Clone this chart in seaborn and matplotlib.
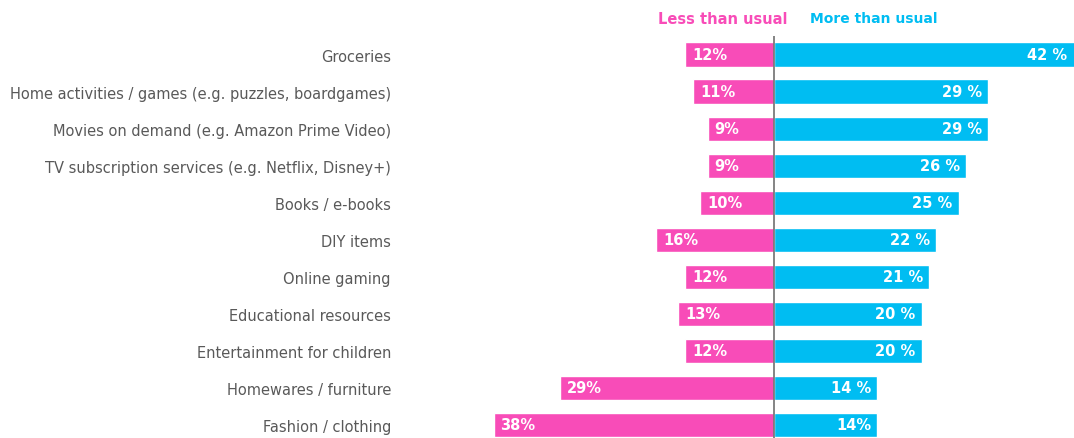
import matplotlib
matplotlib.use("Agg")
import matplotlib.pyplot as plt
import seaborn as sns
import pandas as pd

categories = [
    "Groceries",
    "Home activities / games (e.g. puzzles, boardgames)",
    "Movies on demand (e.g. Amazon Prime Video)",
    "TV subscription services (e.g. Netflix, Disney+)",
    "Books / e-books",
    "DIY items",
    "Online gaming",
    "Educational resources",
    "Entertainment for children",
    "Homewares / furniture",
    "Fashion / clothing",
]
less_than_usual = [12, 11, 9, 9, 10, 16, 12, 13, 12, 29, 38]
more_than_usual = [42, 29, 29, 26, 25, 22, 21, 20, 20, 14, 14]
less_labels = ["12%", "11%", "9%", "9%", "10%", "16%", "12%", "13%", "12%", "29%", "38%"]
more_labels = ["42 %", "29 %", "29 %", "26 %", "25 %", "22 %", "21 %", "20 %", "20 %", "14 %", "14%"]
legend_labels = ["Less than usual", "More than usual"]

PINK = "#F84CB8"
BLUE = "#00BDF2"
GRAY = "#595959"

sns.set_theme(style="white")
plt.rcParams["font.family"] = ["DejaVu Sans"]

df = pd.DataFrame({"cat": categories, "less": [-v for v in less_than_usual], "more": more_than_usual})

W, H = 1074, 439
fig = plt.figure(figsize=(W / 100, H / 100), dpi=100)
ax = fig.add_axes([400 / W, 0, 1 - 400 / W, (439 - 37) / H])

sns.barplot(data=df, x="less", y="cat", color=PINK, width=0.65, orient="h", ax=ax, saturation=1)
sns.barplot(data=df, x="more", y="cat", color=BLUE, width=0.65, orient="h", ax=ax, saturation=1)

xmin, xmax = -(774 - 400) / 7.38, (1074 - 774) / 7.38
ax.set_xlim(xmin, xmax)
ax.set_ylim(10.36, -0.5)
ax.axvline(0, color="#707070", lw=1.2, zorder=5)

for i, (l, m) in enumerate(zip(less_than_usual, more_than_usual)):
    ax.annotate(less_labels[i], xy=(-l, i), xytext=(7, 0), textcoords="offset pixels",
                ha="left", va="center", color="white", fontsize=10.5, fontweight="bold")
    ax.annotate(more_labels[i], xy=(min(m, xmax - 0.1), i), xytext=(-6, 0), textcoords="offset pixels",
                ha="right", va="center", color="white", fontsize=10.5, fontweight="bold")

ax.set_xlabel("")
ax.set_ylabel("")
ax.set_xticks([])
ax.tick_params(axis="y", length=0, pad=6.5, labelsize=10.5, labelcolor=GRAY)
for s in ax.spines.values():
    s.set_visible(False)

fig.text(787 / W, 1 - 19 / H, legend_labels[0], color=PINK, ha="right", va="center",
         fontsize=10.5, fontweight="bold")
fig.text(810 / W, 1 - 19 / H, legend_labels[1], color=BLUE, ha="left", va="center",
         fontsize=10, fontweight="bold")

fig.savefig("out.png", dpi=100)
